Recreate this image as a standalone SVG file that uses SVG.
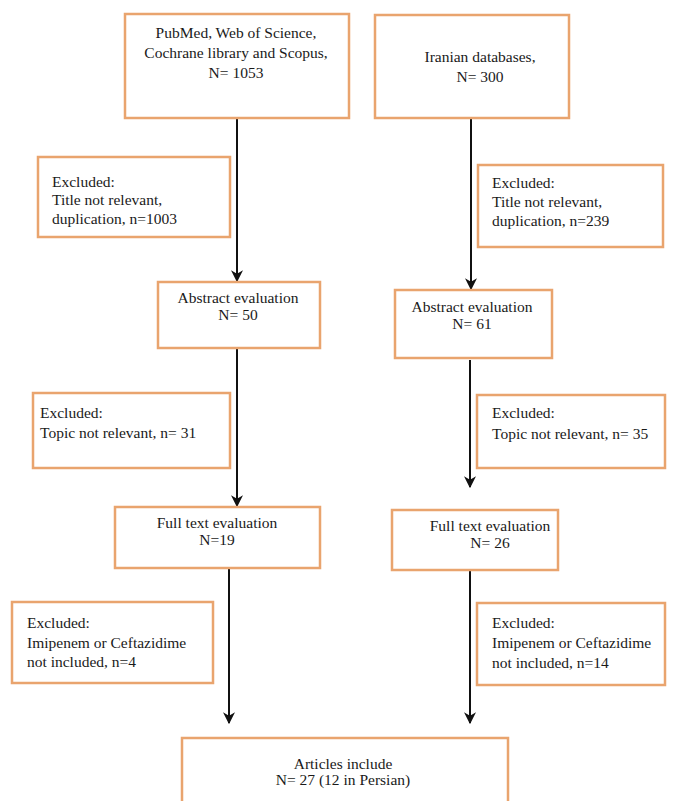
<svg xmlns="http://www.w3.org/2000/svg" width="673" height="801" viewBox="0 0 673 801">
<style>
.box{fill:#fff;stroke:#E9A46E;stroke-width:2.5}
.t{font-family:"Liberation Serif","Times New Roman",serif;font-size:15.5px;fill:#1a1a1a}
.c{text-anchor:middle}
.ln{stroke:#111;stroke-width:2;fill:none}
</style>
<defs>
<marker id="ah" viewBox="0 0 10 10" refX="9" refY="5" markerWidth="6" markerHeight="6" orient="auto" markerUnits="strokeWidth">
<path d="M0,0 L10,5 L0,10 L3,5 z" fill="#111"/>
</marker>
</defs>
<rect width="673" height="801" fill="#fff"/>
<g id="connectors">
<line class="ln" x1="237" y1="118" x2="237" y2="281" marker-end="url(#ah)"/>
<line class="ln" x1="471" y1="118" x2="471" y2="289" marker-end="url(#ah)"/>
<line class="ln" x1="237" y1="348" x2="237" y2="506" marker-end="url(#ah)"/>
<line class="ln" x1="470" y1="360" x2="470" y2="487" marker-end="url(#ah)"/>
<line class="ln" x1="229" y1="568" x2="229" y2="723" marker-end="url(#ah)"/>
<line class="ln" x1="470" y1="570" x2="470" y2="723" marker-end="url(#ah)"/>
</g>
<g id="n1">
<rect class="box" x="125" y="14" width="224" height="104"/>
<text class="t c" x="236" y="38">PubMed, Web of Science,</text>
<text class="t c" x="236" y="58">Cochrane library and Scopus,</text>
<text class="t c" x="236" y="78">N= 1053</text>
</g>
<g id="n2">
<rect class="box" x="375" y="15" width="194" height="103"/>
<text class="t c" x="480" y="62">Iranian databases,</text>
<text class="t c" x="480" y="82">N= 300</text>
</g>
<g id="ex1">
<rect class="box" x="38" y="157" width="192" height="80"/>
<text class="t" x="52" y="187">Excluded:</text>
<text class="t" x="52" y="205">Title not relevant,</text>
<text class="t" x="52" y="224">duplication, n=1003</text>
</g>
<g id="ex2">
<rect class="box" x="478" y="165" width="185" height="82"/>
<text class="t" x="492" y="188">Excluded:</text>
<text class="t" x="492" y="207">Title not relevant,</text>
<text class="t" x="492" y="226">duplication, n=239</text>
</g>
<g id="abs1">
<rect class="box" x="158" y="282" width="162" height="66"/>
<text class="t c" x="238" y="303">Abstract evaluation</text>
<text class="t c" x="238" y="320">N= 50</text>
</g>
<g id="abs2">
<rect class="box" x="395" y="290" width="157" height="68"/>
<text class="t c" x="472" y="312">Abstract evaluation</text>
<text class="t c" x="472" y="329">N= 61</text>
</g>
<g id="ex3">
<rect class="box" x="33" y="393" width="197" height="75"/>
<text class="t" x="40" y="418">Excluded:</text>
<text class="t" x="40" y="438">Topic not relevant, n= 31</text>
</g>
<g id="ex4">
<rect class="box" x="477" y="395" width="188" height="73"/>
<text class="t" x="492" y="418">Excluded:</text>
<text class="t" x="492" y="439">Topic not relevant, n= 35</text>
</g>
<g id="ft1">
<rect class="box" x="115" y="507" width="205" height="61"/>
<text class="t c" x="217" y="528">Full text evaluation</text>
<text class="t c" x="217" y="545">N=19</text>
</g>
<g id="ft2">
<rect class="box" x="392" y="510" width="166" height="60"/>
<text class="t c" x="490" y="531">Full text evaluation</text>
<text class="t c" x="490" y="548">N= 26</text>
</g>
<g id="ex5">
<rect class="box" x="12" y="602" width="201" height="81"/>
<text class="t" x="27" y="628">Excluded:</text>
<text class="t" x="27" y="648">Imipenem or Ceftazidime</text>
<text class="t" x="27" y="667">not included, n=4</text>
</g>
<g id="ex6">
<rect class="box" x="477" y="603" width="188" height="82"/>
<text class="t" x="492" y="628">Excluded:</text>
<text class="t" x="492" y="648">Imipenem or Ceftazidime</text>
<text class="t" x="492" y="668">not included, n=14</text>
</g>
<g id="art">
<rect class="box" x="182" y="738" width="326" height="80"/>
<text class="t c" x="343" y="769">Articles include</text>
<text class="t c" x="343" y="785">N= 27 (12 in Persian)</text>
</g>
</svg>
